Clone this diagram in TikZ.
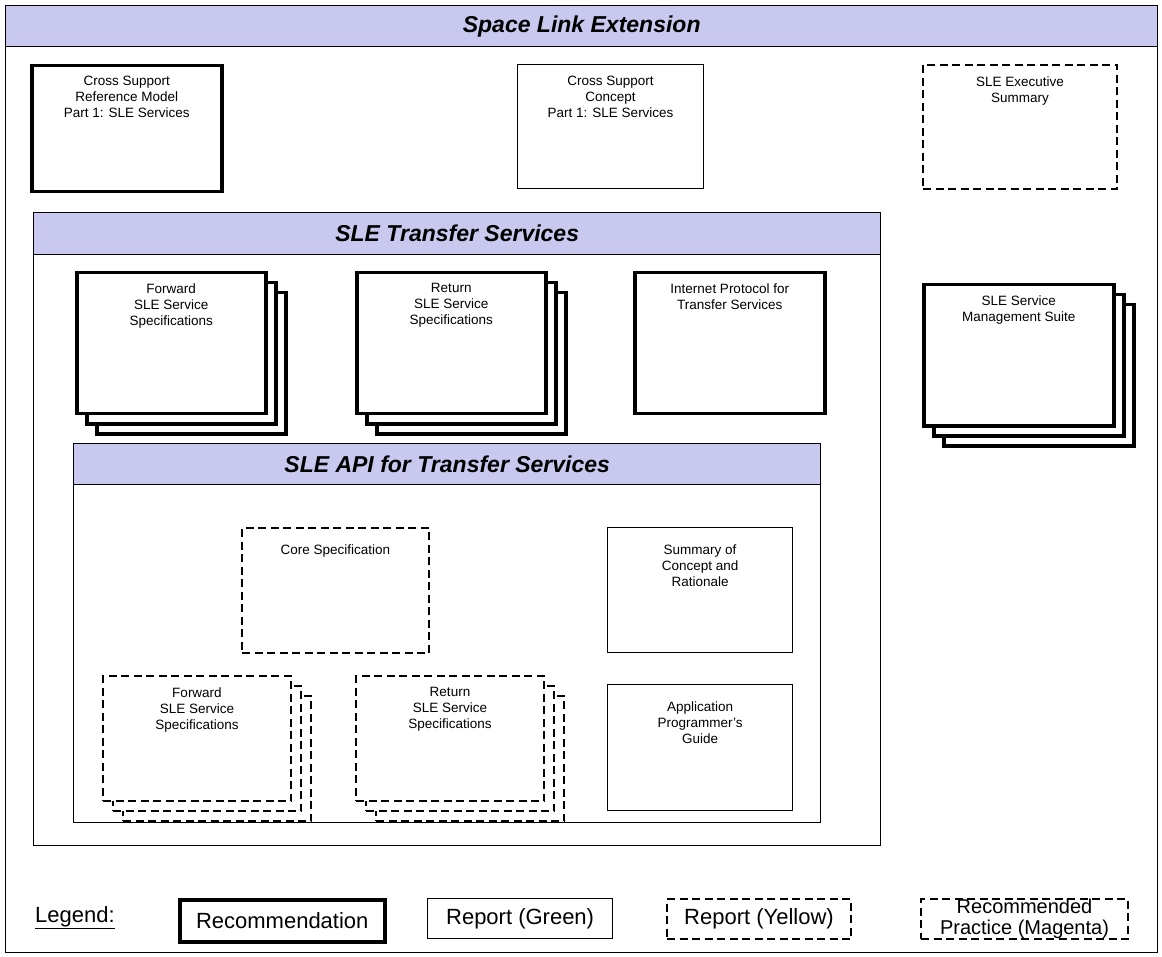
\documentclass[tikz,border=0pt]{standalone}
\usepackage{fontspec}
\setmainfont{Liberation Sans}
\begin{document}
\begin{tikzpicture}[x=1pt,y=-1pt,
  txt/.style={font=\fontsize{13.5}{16}\selectfont, align=center, anchor=north},
  ttl/.style={font=\fontsize{23}{26}\selectfont\bfseries\itshape},
  lgd/.style={font=\fontsize{22}{22}\selectfont},
  lgdsmall/.style={font=\fontsize{20}{20.5}\selectfont},
  recbox/.style={draw, line width=3.5pt, fill=white, rectangle, inner sep=0pt, anchor=north west},
  repbox/.style={draw, line width=1.2pt, fill=white, rectangle, inner sep=0pt, anchor=north west},
  yelbox/.style={draw, line width=2pt, dash pattern=on 8pt off 4.5pt, fill=white, rectangle, inner sep=0pt, anchor=north west},
  framebox/.style={draw, line width=1.4pt, rectangle, inner sep=0pt, anchor=north west},
  headbox/.style={draw, line width=1.4pt, fill=headfill, rectangle, inner sep=0pt, anchor=north west},
]
\definecolor{headfill}{HTML}{C9C9F0}
\useasboundingbox (0,0) rectangle (1162,957);
\fill[white] (0,0) rectangle (1162,957);

% outer frame
\node[framebox, minimum width=1152, minimum height=947] (outer) at (5,5) {};
\node[headbox, minimum width=1152, minimum height=41] (outerhead) at (5,5) {};
\node[ttl] (outertitle) at (outerhead.center) {Space Link Extension};

% top boxes
\node[recbox, minimum width=190, minimum height=126] (csrm) at (30,64) {};
\node[txt] (csrmt) at ([yshift=-9]csrm.north) {Cross Support\\Reference Model\\Part 1: SLE Services};
\node[repbox, minimum width=186, minimum height=124] (csc) at (517,64) {};
\node[txt] (csct) at ([yshift=-9]csc.north) {Cross Support\\Concept\\Part 1: SLE Services};
\node[yelbox, minimum width=194, minimum height=124] (exec) at (922,64) {};
\node[txt] (exect) at ([yshift=-9]exec.north) {SLE Executive\\Summary};

% transfer services frame
\node[framebox, minimum width=847, minimum height=633] (tsf) at (33,212) {};
\node[headbox, minimum width=847, minimum height=42] (tsh) at (33,212) {};
\node[ttl] (tst) at (tsh.center) {SLE Transfer Services};

% forward stack
\node[recbox, minimum width=189, minimum height=141] (fw3) at (95,291) {};
\node[recbox, minimum width=189, minimum height=141] (fw2) at (85,281) {};
\node[recbox, minimum width=189, minimum height=141] (fw1) at (75,271) {};
\node[txt] (fwt) at ([yshift=-9]fw1.north) {Forward\\SLE Service\\Specifications};

% return stack
\node[recbox, minimum width=189, minimum height=141] (rt3) at (375,291) {};
\node[recbox, minimum width=189, minimum height=141] (rt2) at (365,281) {};
\node[recbox, minimum width=189, minimum height=141] (rt1) at (355,271) {};
\node[txt] (rtt) at ([yshift=-9]rt1.north) {Return\\SLE Service\\Specifications};

% IP
\node[recbox, minimum width=190, minimum height=141] (ip) at (633,271) {};
\node[txt] (ipt) at ([yshift=-9]ip.north) {Internet Protocol for\\Transfer Services};

% service management stack
\node[recbox, minimum width=190, minimum height=141] (sm3) at (942,303) {};
\node[recbox, minimum width=190, minimum height=141] (sm2) at (932,293) {};
\node[recbox, minimum width=190, minimum height=141] (sm1) at (922,283) {};
\node[txt] (smt) at ([yshift=-9]sm1.north) {SLE Service\\Management Suite};

% API frame
\node[framebox, minimum width=747, minimum height=379] (apif) at (73,443) {};
\node[headbox, minimum width=747, minimum height=41] (apih) at (73,443) {};
\node[ttl] (apit) at (apih.center) {SLE API for Transfer Services};

% core spec
\node[yelbox, minimum width=187, minimum height=125] (core) at (241,527) {};
\node[txt] (coret) at ([yshift=-14]core.north) {Core Specification};

% summary
\node[repbox, minimum width=185, minimum height=125] (sum) at (607,527) {};
\node[txt] (sumt) at ([yshift=-14]sum.north) {Summary of\\Concept and\\Rationale};

% APG
\node[repbox, minimum width=185, minimum height=126] (apg) at (607,684) {};
\node[txt] (apgt) at ([yshift=-14]apg.north) {Application\\Programmer's\\Guide};

% API forward stack
\node[yelbox, minimum width=188, minimum height=125] (af3) at (122,695) {};
\node[yelbox, minimum width=188, minimum height=125] (af2) at (112,685) {};
\node[yelbox, minimum width=188, minimum height=125] (af1) at (102,675) {};
\node[txt] (aft) at ([yshift=-9]af1.north) {Forward\\SLE Service\\Specifications};

% API return stack
\node[yelbox, minimum width=188, minimum height=125] (ar3) at (375,695) {};
\node[yelbox, minimum width=188, minimum height=125] (ar2) at (365,685) {};
\node[yelbox, minimum width=188, minimum height=125] (ar1) at (355,675) {};
\node[txt] (art) at ([yshift=-9]ar1.north) {Return\\SLE Service\\Specifications};

% legend
\node[lgd, anchor=west, inner sep=0pt] (lgdt) at (35,918) {\underline{Legend:}};
\node[recbox, minimum width=205, minimum height=42, lgd] (lrec) at (178,898) {Recommendation};
\node[repbox, minimum width=185, minimum height=40, lgd] (lrep) at (427,898) {Report (Green)};
\node[yelbox, minimum width=184, minimum height=40, lgd] (lyel) at (666,898) {Report (Yellow)};
\node[yelbox, minimum width=207, minimum height=40, lgdsmall, align=center] (lmag) at (920,898) {Recommended\\Practice (Magenta)};
\end{tikzpicture}
\end{document}
